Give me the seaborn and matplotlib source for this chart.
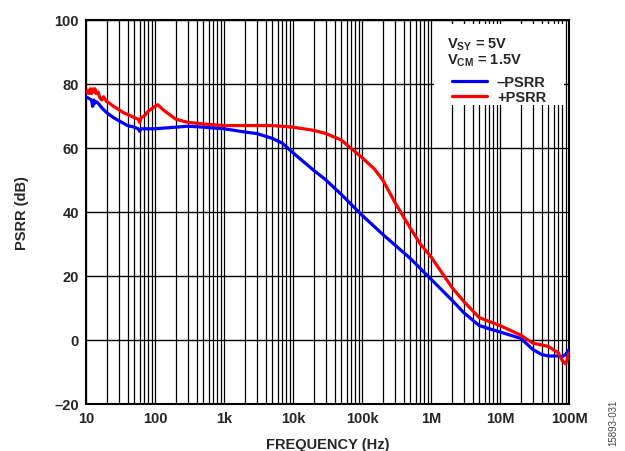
import numpy as np
import pandas as pd
import matplotlib
matplotlib.use("Agg")
import matplotlib.pyplot as plt
import seaborn as sns
from matplotlib.patches import Rectangle
from matplotlib.lines import Line2D

# ---- data ----
freq_neg = [10, 11, 12, 12.5, 13, 13.5, 14, 15, 17, 20, 25, 30, 40, 50, 57, 60, 63, 70, 100, 200, 300, 500,
            1e3, 2e3, 3e3, 5e3, 7e3, 1e4, 2e4, 3e4, 5e4, 1e5, 2e5, 5e5, 1e6, 2e6, 3e6, 5e6, 7e6,
            1e7, 2e7, 3e7, 4e7, 5e7, 7e7, 8e7, 9e7, 1e8]
psrr_neg = [76, 75.5, 75, 73, 75, 74, 74.5, 74, 72.5, 71, 69.5, 68.5, 67, 66.5, 66, 65.2, 66, 66, 66, 66.5, 66.8, 66.5,
            66, 65, 64.5, 63, 61.5, 58.5, 53, 50, 45.5, 39, 33, 25.5, 19, 12.5, 8.5, 4.5, 3.5,
            2.5, 0.5, -3, -4.5, -5, -5, -5.2, -4.5, -3]

freq_pos = [10, 10.5, 11, 11.5, 12, 12.5, 13, 13.5, 14, 15, 16, 17, 18, 20, 22, 25, 30, 35, 40, 50, 57, 60, 63,
            70, 80, 100, 110, 130, 150, 200, 300, 500, 1e3, 2e3, 5e3, 1e4, 2e4, 3e4, 5e4,
            1e5, 1.5e5, 2e5, 3e5, 5e5, 7e5, 1e6, 2e6, 3e6, 5e6, 1e7, 2e7, 3e7, 5e7, 7e7, 8e7, 9e7, 1e8]
psrr_pos = [77.5, 78, 77, 78.5, 77, 78.5, 77.5, 78.5, 77, 77.5, 75.5, 75, 76, 74.5, 74, 73, 72, 71, 70.5, 69.5, 69, 68, 69.5,
            70, 71.5, 73, 73.5, 72, 71, 69, 68, 67.5, 67, 67, 67, 66.5, 65.5, 64.5, 62.5,
            57, 53.5, 50, 43, 35, 30, 26, 16.5, 12, 7, 4.5, 1.5, -1, -2, -4, -6.5, -7.5, -4]

series_names = ["\u2013PSRR", "+PSRR"]
colors = ["#0000FF", "#FF0000"]

y_ticks = [-20, 0, 20, 40, 60, 80, 100]
y_labels = ["\u201320", "0", "20", "40", "60", "80", "100"]
x_ticks = [10, 100, 1e3, 1e4, 1e5, 1e6, 1e7, 1e8]
x_labels = ["10", "100", "1k", "10k", "100k", "1M", "10M", "100M"]

df = pd.concat([
    pd.DataFrame({"freq": freq_neg, "psrr": psrr_neg, "series": series_names[0]}),
    pd.DataFrame({"freq": freq_pos, "psrr": psrr_pos, "series": series_names[1]}),
])

FS = 10.5

sns.set_style("white")
plt.rcParams["font.family"] = ["Liberation Sans", "DejaVu Sans"]
plt.rcParams["font.weight"] = "bold"
plt.rcParams["mathtext.fontset"] = "custom"
plt.rcParams["mathtext.rm"] = "Liberation Sans:bold"
plt.rcParams["mathtext.it"] = "Liberation Sans:bold"
plt.rcParams["mathtext.bf"] = "Liberation Sans:bold"

fig = plt.figure(figsize=(6.25, 4.52), dpi=100)
ax = fig.add_axes([0.1376, 0.104, 0.7728, 0.8496])

sns.lineplot(data=df, x="freq", y="psrr", hue="series", palette=colors, estimator=None,
             sort=False, linewidth=2.3, ax=ax, legend=False, zorder=3)

ax.set_xscale("log")
ax.set_xlim(10, 1e8)
ax.set_ylim(-20, 100)

# grid
minor = [m * 10 ** e for e in range(1, 8) for m in range(1, 10)] + [1e8]
for xv in minor:
    ax.axvline(xv, color="black", linewidth=0.9, zorder=1)
for yv in y_ticks:
    ax.axhline(yv, color="black", linewidth=1.0, zorder=1)

ax.set_xticks(x_ticks)
ax.set_xticklabels(x_labels)
ax.set_xticks([], minor=True)
ax.set_yticks(y_ticks)
ax.set_yticklabels(y_labels)
ax.tick_params(axis="both", length=0, labelsize=FS, pad=5)
for lab in ax.get_xticklabels() + ax.get_yticklabels():
    lab.set_fontweight("bold")

for s in ax.spines.values():
    s.set_visible(True)
    s.set_color("black")
    s.set_linewidth(1.5)

ax.set_xlabel("FREQUENCY (Hz)", fontsize=FS, fontweight="bold", labelpad=9)
ax.set_ylabel("PSRR (dB)", fontsize=FS, fontweight="bold", labelpad=18)

# legend box
ax.add_patch(Rectangle((0.72, 0.779), 0.27, 0.211, transform=ax.transAxes,
                       facecolor="white", edgecolor="none", zorder=4))
ax.text(0.747, 0.96, r"V$_{\mathregular{SY}}$ = 5V", transform=ax.transAxes,
        fontsize=FS, fontweight="bold", va="top", ha="left", zorder=5)
ax.text(0.747, 0.918, r"V$_{\mathregular{CM}}$ = 1.5V", transform=ax.transAxes,
        fontsize=FS, fontweight="bold", va="top", ha="left", zorder=5)
handles = [Line2D([], [], color=c, linewidth=2.3) for c in colors]
leg = ax.legend(handles, series_names, loc="upper left", bbox_to_anchor=(0.745, 0.872),
                frameon=False, fontsize=FS, handlelength=2.4, handletextpad=0.7,
                labelspacing=0.05, borderaxespad=0)
leg.set_zorder(6)
for t in leg.get_texts():
    t.set_fontweight("bold")

fig.text(0.982, 0.065, "15893-031", rotation=90, fontsize=7, color="#444444",
         fontweight="normal", ha="center", va="center")

fig.savefig("out.png", dpi=100)
